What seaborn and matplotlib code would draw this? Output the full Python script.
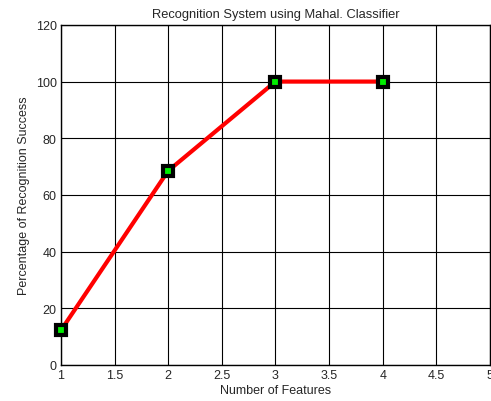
import pandas as pd
import seaborn as sns
import matplotlib.pyplot as plt

#veriler
features = [1, 2, 3, 4]
success = [12.2, 68.5, 100, 100]
df = pd.DataFrame({"features": features, "success": success})

sns.set_style("white")
plt.rcParams["font.family"] = ["Liberation Sans", "DejaVu Sans"]
plt.rcParams["xtick.direction"] = "in"
plt.rcParams["ytick.direction"] = "in"

fig = plt.figure(figsize=(4.91, 4.02), dpi=100)
ax = fig.add_axes([0.124, 0.0896, 0.874, 0.846])

sns.lineplot(data=df, x="features", y="success", ax=ax, color="red", linewidth=3,
             marker="s", markersize=7.5, markerfacecolor="#00ee00",
             markeredgecolor="black", markeredgewidth=3, zorder=3)
for ln in ax.lines:
    ln.set_clip_on(False)

ax.set_xlim(1, 5)
ax.set_ylim(0, 120)
ax.set_xticks([1, 1.5, 2, 2.5, 3, 3.5, 4, 4.5, 5])
ax.set_xticklabels(["1", "1.5", "2", "2.5", "3", "3.5", "4", "4.5", "5"])
ax.set_yticks([0, 20, 40, 60, 80, 100, 120])
ax.grid(True, color="black", linewidth=0.8, linestyle="-")
ax.tick_params(labelsize=9, length=3, color="black", pad=3)
for s in ax.spines.values():
    s.set_color("black")
    s.set_linewidth(1)

ax.set_title("Recognition System using Mahal. Classifier", fontsize=9.3, pad=6)
ax.set_xlabel("Number of Features", fontsize=9, labelpad=2)
ax.set_ylabel("Percentage of Recognition Success", fontsize=9, labelpad=4)

fig.savefig("out.png", dpi=100)
